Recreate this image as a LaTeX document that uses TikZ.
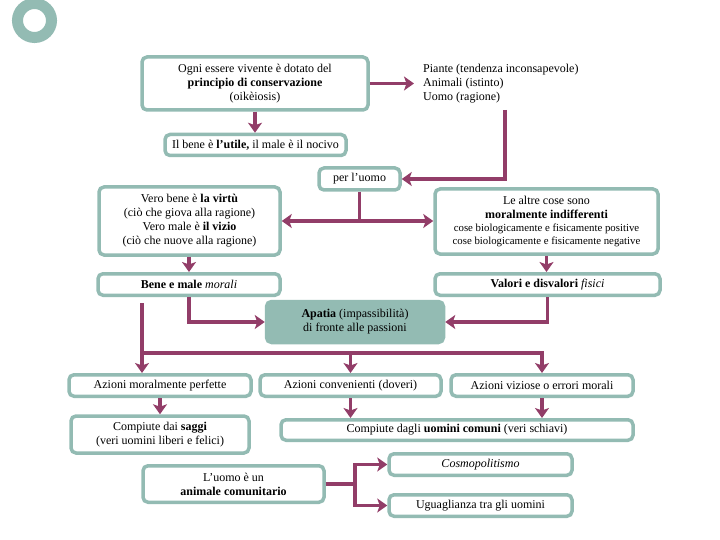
\documentclass[tikz,border=0pt]{standalone}
\usepackage{fontspec}
\setmainfont{Liberation Serif}
\usetikzlibrary{arrows.meta}
\definecolor{tealb}{HTML}{93BBB3}
\definecolor{mag}{HTML}{923D68}
\tikzset{
  box/.style={draw=tealb, line width=3.5pt, rounded corners=5pt, fill=white, align=center, inner sep=2pt, font=\fontsize{12}{14}\selectfont},
  fillbox/.style={box, fill=tealb},
  plain/.style={align=left, inner sep=0pt, font=\fontsize{12}{14}\selectfont},
  tip/.tip={Stealth[length=10pt,width=14pt,inset=2.5pt]},
  arr/.style={draw=mag, line width=3.5pt, -tip},
  dblarr/.style={draw=mag, line width=3.5pt, tip-tip},
  conn/.style={draw=mag, line width=3.5pt},
}
\begin{document}
\begin{tikzpicture}[x=1pt,y=-1pt]
\useasboundingbox (0,0) rectangle (720,540);
% decorative ring
\draw[tealb, line width=11pt] (34.5,20.5) circle[radius=17];

\node[box, minimum width=226, minimum height=53] (box1) at (255,83.5)
  {Ogni essere vivente è dotato del\\ \textbf{principio di conservazione}\\ (oikèiosis)};
\node[plain, anchor=west] (piante) at (423,84)
  {Piante (tendenza inconsapevole)\\ Animali (istinto)\\ Uomo (ragione)};
\node[box, minimum width=181, minimum height=21] (box2) at (255.5,145)
  {Il bene è \textbf{l’utile,} il male è il nocivo};
\node[box, minimum width=81, minimum height=22] (per) at (359.5,179) {per l’uomo};
\node[box, minimum width=181, minimum height=68] (vero) at (189.5,221)
  {Vero bene è \textbf{la virtù}\\(ciò che giova alla ragione)\\Vero male è \textbf{il vizio}\\(ciò che nuove alla ragione)};
\node[box, minimum width=223, minimum height=65] (altre) at (546.5,221.5)
  {Le altre cose sono\\\textbf{moralmente indifferenti}\\[-1pt]{\fontsize{10.8}{13}\selectfont cose biologicamente e fisicamente positive}\\[-1pt]{\fontsize{10.8}{13}\selectfont cose biologicamente e fisicamente negative}};
\node[box, minimum width=182, minimum height=21.5] (benemale) at (189,284.5)
  {\textbf{Bene e male} \textit{morali}};
\node[box, minimum width=225, minimum height=21.5] (valori) at (547.5,284.5)
  {\textbf{Valori e disvalori} \textit{fisici}};
\node[fillbox, minimum width=177, minimum height=41] (apatia) at (355,322)
  {\textbf{Apatia} (impassibilità)\\di fronte alle passioni};
\node[box, minimum width=182, minimum height=21.5] (azmor) at (160,385.5) {Azioni moralmente perfette};
\node[box, minimum width=181, minimum height=21.5] (azconv) at (350.5,385.5) {Azioni convenienti (doveri)};
\node[box, minimum width=182, minimum height=21.5] (azviz) at (542,385.5) {Azioni viziose o errori morali};
\node[box, minimum width=178, minimum height=37] (saggi) at (160,434.5)
  {Compiute dai \textbf{saggi}\\(veri uomini liberi e felici)};
\node[box, minimum width=352, minimum height=20.5] (comuni) at (457,430)
  {Compiute dagli \textbf{uomini comuni} (veri schiavi)};
\node[box, minimum width=181, minimum height=36.5] (luomo) at (233.5,484)
  {L’uomo è un\\\textbf{animale comunitario}};
\node[box, minimum width=183, minimum height=21.5] (cosmo) at (480.5,464.5) {\textit{Cosmopolitismo}};
\node[box, minimum width=183, minimum height=21.5] (ugu) at (480.5,505.5) {Uguaglianza tra gli uomini};

% connectors
\coordinate (p1) at (505,110);
\coordinate (L) at (142,353);
\draw[arr] (box1.south) -- (box1.south |- box2.north);
\draw[arr] (box1.east) -- ([xshift=-9pt]piante.west |- box1.east);
\draw[arr] (p1) |- (per.east);
\draw[conn] (per.south) -- (per.south |- vero.east);
\draw[dblarr] (vero.east) -- (vero.east -| altre.west);
\draw[arr] (vero.south -| benemale.north) -- (benemale.north);
\draw[arr] (altre.south) -- (altre.south |- valori.north);
\draw[arr] (benemale.south) |- (apatia.west);
\draw[arr] (valori.south) |- (apatia.east);
\draw[arr] ([yshift=-6pt]L |- benemale.south) -- (L |- azmor.north);
\draw[arr] (L) -| (azviz.north);
\draw[arr] (L -| azconv.north) -- (azconv.north);
\draw[arr] (azmor.south) -- (azmor.south |- saggi.north);
\draw[arr] (azconv.south) -- (azconv.south |- comuni.north);
\draw[arr] (azviz.south) -- (azviz.south |- comuni.north);
\draw[arr] (luomo.east) -- ++(29,0) |- (cosmo.west);
\draw[arr] (luomo.east) -- ++(29,0) |- (ugu.west);
\end{tikzpicture}
\end{document}
